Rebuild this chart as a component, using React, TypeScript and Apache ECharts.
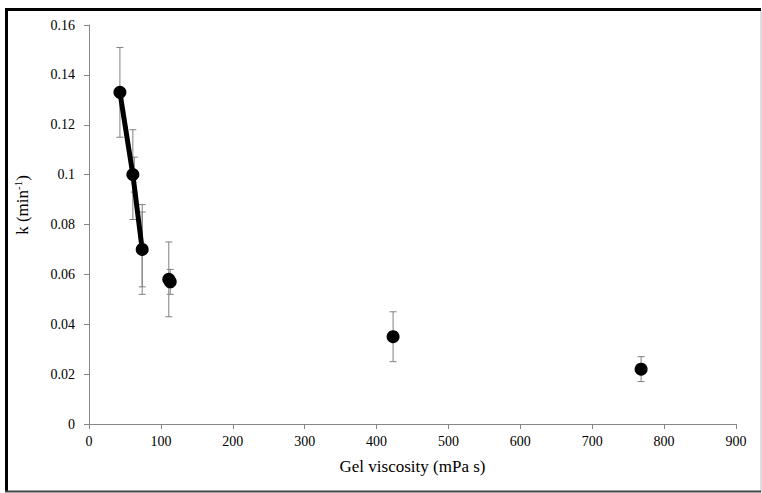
import React, { useEffect, useRef } from "react";
import * as echarts from "echarts";

const lineX = [43, 61, 74];
const lineY = [0.133, 0.1, 0.07];
const scatterX = [111, 113, 423, 768];
const scatterY = [0.058, 0.057, 0.035, 0.022];
const errX = [43, 61, 63, 74, 74, 111, 113, 423, 768];
const errY = [0.133, 0.1, 0.1, 0.07, 0.07, 0.058, 0.057, 0.035, 0.022];
const errSize = [0.018, 0.018, 0.007, 0.018, 0.015, 0.015, 0.005, 0.01, 0.005];
const hErrX = [43, 61, 74];
const hErrY = [0.133, 0.1, 0.07];
const hErrSize = [4, 4, 3];

const FONT = "serif";

export default function App() {
  const ref = useRef<HTMLDivElement>(null);
  useEffect(() => {
    if (!ref.current) return;
    const chart = echarts.init(ref.current, undefined, { renderer: "svg" });
    const errData = errX.map((x, i) => [x, errY[i], errSize[i]]);
    const hErrData = hErrX.map((x, i) => [x, hErrY[i], hErrSize[i]]);
    chart.setOption({
      animation: false,
      backgroundColor: "#fff",
      textStyle: { fontFamily: FONT },
      grid: { left: 89, right: 26, top: 25, bottom: 69 },
      xAxis: {
        type: "value",
        min: 0,
        max: 900,
        interval: 100,
        name: "Gel viscosity (mPa s)",
        nameLocation: "middle",
        nameGap: 34,
        nameTextStyle: { fontFamily: FONT, fontSize: 17, color: "#000" },
        axisLine: { lineStyle: { color: "#868686", width: 1 } },
        axisTick: { show: true, inside: false, length: 5, lineStyle: { color: "#868686" } },
        axisLabel: { fontFamily: FONT, fontSize: 14, color: "#000", margin: 10 },
        splitLine: { show: false },
      },
      yAxis: {
        type: "value",
        min: 0,
        max: 0.16,
        interval: 0.02,
        axisLine: { show: true, lineStyle: { color: "#868686", width: 1 } },
        axisTick: { show: true, inside: false, length: 5, lineStyle: { color: "#868686" } },
        axisLabel: {
          fontFamily: FONT,
          fontSize: 14,
          color: "#000",
          margin: 14,
          formatter: (v: number) => (v === 0 ? "0" : String(parseFloat(v.toFixed(2)))),
        },
        splitLine: { show: false },
      },
      graphic: [
        {
          type: "text",
          x: 22,
          y: 205,
          rotation: Math.PI / 2,
          style: {
            text: "k (min{sup|-1})",
            fontFamily: FONT,
            fontSize: 17,
            fill: "#000",
            align: "center",
            verticalAlign: "middle",
            rich: {
              sup: { fontFamily: FONT, fontSize: 11, verticalAlign: "top", padding: [0, 0, 8, 0] },
            },
          },
        },
        { type: "line", shape: { x1: 5, y1: 9.5, x2: 761, y2: 9.5 }, style: { stroke: "#000", lineWidth: 3 } },
        { type: "line", shape: { x1: 6.5, y1: 8, x2: 6.5, y2: 492 }, style: { stroke: "#000", lineWidth: 3 } },
        { type: "line", shape: { x1: 761, y1: 11, x2: 761, y2: 492 }, style: { stroke: "#bbb", lineWidth: 1 } },
        { type: "line", shape: { x1: 5, y1: 491.5, x2: 761, y2: 491.5 }, style: { stroke: "#444", lineWidth: 2 } },
      ],
      series: [
        {
          type: "custom",
          name: "yerr",
          data: errData,
          z: 1,
          renderItem: (params: any, api: any) => {
            const x = api.value(0);
            const y = api.value(1);
            const e = api.value(2);
            const top = api.coord([x, y + e]);
            const bot = api.coord([x, y - e]);
            const c = 3.5;
            const st = { stroke: "#808080", lineWidth: 1 };
            return {
              type: "group",
              children: [
                { type: "line", shape: { x1: top[0], y1: top[1], x2: bot[0], y2: bot[1] }, style: st },
                { type: "line", shape: { x1: top[0] - c, y1: top[1], x2: top[0] + c, y2: top[1] }, style: st },
                { type: "line", shape: { x1: bot[0] - c, y1: bot[1], x2: bot[0] + c, y2: bot[1] }, style: st },
              ],
            };
          },
        },
        {
          type: "custom",
          name: "xerr",
          data: hErrData,
          z: 1,
          renderItem: (params: any, api: any) => {
            const x = api.value(0);
            const y = api.value(1);
            const e = api.value(2);
            const l = api.coord([x - e, y]);
            const r = api.coord([x + e, y]);
            const c = 3;
            const st = { stroke: "#000", lineWidth: 1 };
            return {
              type: "group",
              children: [
                { type: "line", shape: { x1: l[0], y1: l[1], x2: r[0], y2: r[1] }, style: st },
                { type: "line", shape: { x1: l[0], y1: l[1] - c, x2: l[0], y2: l[1] + c }, style: st },
                { type: "line", shape: { x1: r[0], y1: r[1] - c, x2: r[0], y2: r[1] + c }, style: st },
              ],
            };
          },
        },
        {
          type: "line",
          name: "fit",
          data: lineX.map((x, i) => [x, lineY[i]]),
          symbol: "circle",
          symbolSize: 13,
          itemStyle: { color: "#000", opacity: 1 },
          lineStyle: { color: "#000", width: 5 },
          z: 3,
        },
        {
          type: "scatter",
          name: "points",
          data: scatterX.map((x, i) => [x, scatterY[i]]),
          symbol: "circle",
          symbolSize: 13,
          itemStyle: { color: "#000", opacity: 1 },
          z: 3,
        },
      ],
    });
    return () => chart.dispose();
  }, []);
  return (
    <div
      ref={ref}
      style={{ position: "fixed", left: 0, top: 0, width: 762, height: 493 }}
    />
  );
}
